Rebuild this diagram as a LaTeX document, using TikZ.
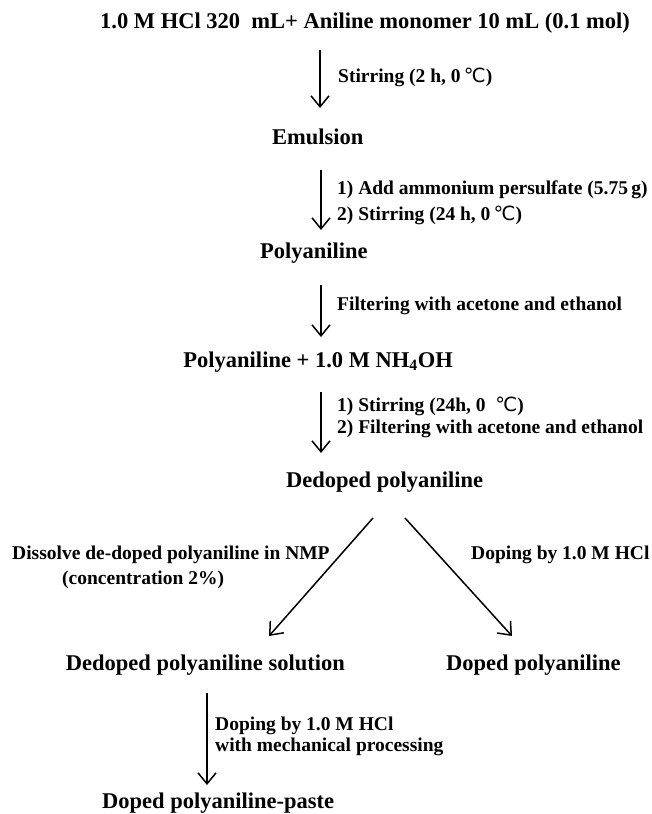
\documentclass[tikz,border=0pt]{standalone}
\usepackage{fontspec}
\setmainfont{Liberation Serif}
\newfontfamily\degfont{DejaVu Sans}
\usetikzlibrary{arrows.meta}
\newcommand{\degC}{{\degfont\mdseries ℃}}
\begin{document}
\begin{tikzpicture}[x=1pt,y=-1pt,
  mainlbl/.style={inner sep=0pt,font=\fontsize{22.5}{26}\selectfont\bfseries},
  steplbl/.style={inner sep=0pt,anchor=west,font=\fontsize{19.5}{23}\selectfont\bfseries},
  flowarrow/.style={line width=1.5pt,-{Straight Barb[length=11pt,width=18pt,line width=1.5pt]}}]
\useasboundingbox (0,0) rectangle (652,814);
% main nodes
\node[mainlbl,anchor=west] (title) at (100,23) {1.0 M HCl 320\ \ mL+ Aniline monomer 10 mL (0.1 mol)};
\node[mainlbl,anchor=west] (emul) at (272,137) {Emulsion};
\node[mainlbl,anchor=west] (poly) at (260,253) {Polyaniline};
\node[mainlbl,anchor=east] (polynh) at (453,362) {Polyaniline + 1.0 M NH\textsubscript{4}OH};
\node[mainlbl,anchor=west] (dedoped) at (286,482) {Dedoped polyaniline};
\node[mainlbl,anchor=east] (sol) at (345,665) {Dedoped polyaniline solution};
\node[mainlbl,anchor=west] (doped) at (446,665) {Doped polyaniline};
\node[mainlbl,anchor=west] (paste) at (102,803) {Doped polyaniline-paste};
% arrow end points
\coordinate (a1s) at (320,50);  \coordinate (a1e) at (320,108);
\coordinate (a2s) at (321,170); \coordinate (a2e) at (321,230);
\coordinate (a3s) at (321,285); \coordinate (a3e) at (321,337);
\coordinate (a4s) at (321,392); \coordinate (a4e) at (321,453);
\coordinate (dls) at (373,518); \coordinate (dle) at (269,636);
\coordinate (drs) at (405,518); \coordinate (dre) at (512,636);
\coordinate (a5s) at (207,693); \coordinate (a5e) at (207,785);
\draw[flowarrow] (a1s) -- (a1e);
\draw[flowarrow] (a2s) -- (a2e);
\draw[flowarrow] (a3s) -- (a3e);
\draw[flowarrow] (a4s) -- (a4e);
\draw[flowarrow] (dls) -- (dle);
\draw[flowarrow] (drs) -- (dre);
\draw[flowarrow] (a5s) -- (a5e);
% step labels
\node[steplbl] (l1) at (338,77) {Stirring (2 h, 0\,\degC)};
\node[steplbl] (l2a) at (337,190) {1) Add ammonium persulfate (5.75\,g)};
\node[steplbl] (l2b) at (337,215) {2) Stirring (24 h, 0\,\degC)};
\node[steplbl] (l3) at (337,306) {Filtering with acetone and ethanol};
\node[steplbl] (l4a) at (337,406) {1) Stirring (24h, 0\ \ \degC)};
\node[steplbl] (l4b) at (337,429) {2) Filtering with acetone and ethanol};
\node[steplbl] (ll1) at (12,555) {Dissolve de-doped polyaniline in NMP};
\node[steplbl] (ll2) at (62,580) {(concentration 2\%)};
\node[steplbl] (rl) at (471,555) {Doping by 1.0 M HCl};
\node[steplbl] (bl1) at (215,726) {Doping by 1.0 M HCl};
\node[steplbl] (bl2) at (215,747) {with mechanical processing};
\end{tikzpicture}
\end{document}
